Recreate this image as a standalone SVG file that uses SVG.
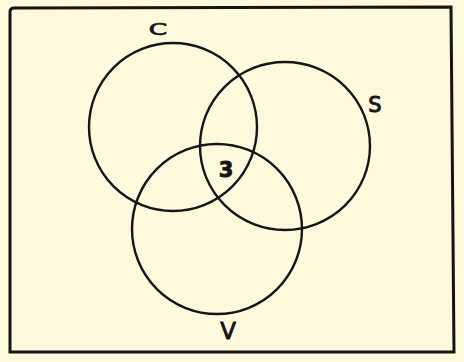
<svg xmlns="http://www.w3.org/2000/svg" width="464" height="362" viewBox="0 0 464 362">
<style>
.ring{fill:none;stroke:#151515;stroke-width:2.4}
.lbl{font-family:"DejaVu Sans","Liberation Sans",sans-serif;fill:#151515;stroke:#151515;stroke-width:0.9;text-anchor:middle}
</style>
<rect x="0" y="0" width="464" height="362" fill="#fcf9dc"/>
<g id="frame">
<path d="M10,352 L10,12 Q10,8 14,8 L451,7 L454,352 Z" fill="none" stroke="#151515" stroke-width="3"/>
</g>
<g id="C">
<ellipse class="ring" cx="173" cy="127" rx="84" ry="84"/>
<text class="lbl" x="158" y="35" font-size="22" transform="translate(158 35) scale(1.2 0.7) translate(-158 -35)">C</text>
</g>
<g id="S">
<ellipse class="ring" cx="285" cy="146" rx="85" ry="84"/>
<text class="lbl" x="375" y="112" font-size="21">S</text>
</g>
<g id="V">
<ellipse class="ring" cx="217" cy="229" rx="85" ry="85"/>
<text class="lbl" x="228" y="339" font-size="23">V</text>
</g>
<g id="center">
<text class="lbl" x="226" y="177" font-size="21" font-weight="bold">3</text>
</g>
</svg>
